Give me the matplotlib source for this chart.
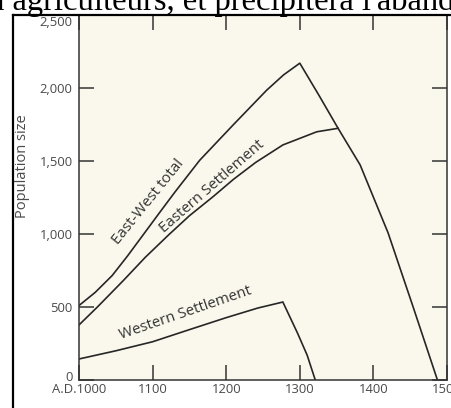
import matplotlib
matplotlib.use("Agg")
import matplotlib.pyplot as plt
from matplotlib.lines import Line2D

# ---- data ----
total_years = [1000, 1022, 1045, 1066, 1088, 1110, 1130, 1164, 1210, 1255, 1278, 1300, 1326, 1352, 1382, 1420, 1454, 1487]
total_pop   = [510,  600,  715,  850,  1000, 1150, 1285, 1505, 1750, 1985, 2090, 2170, 1950, 1724, 1473, 1007, 500,  0]

east_years = [1000, 1025, 1060, 1090, 1122, 1150, 1182, 1210, 1240, 1277, 1323, 1352]
east_pop   = [377,  500,  680,  840,  995,  1125, 1255, 1375, 1490, 1610, 1700, 1724]

west_years = [1000, 1050, 1100, 1150, 1200, 1243, 1277, 1297, 1310, 1321]
west_pop   = [144,  200,  262,  345,  427,  493,  534,  320,  170,  0]

x_ticks = [1000, 1100, 1200, 1300, 1400, 1500]
x_labels = ["A.D.1000", "1100", "1200", "1300", "1400", "1500"]
y_ticks = [0, 500, 1000, 1500, 2000, 2500]
y_labels = ["0", "500", "1,000", "1,500", "2,000", "2,500"]

W, H = 451, 408
fig = plt.figure(figsize=(W / 100, H / 100), dpi=100)
fig.patch.set_facecolor("white")

def fx(px):
    return px / W

def fy(py):
    return 1 - py / H

ax = fig.add_axes([fx(79), fy(380), fx(447) - fx(79), fy(15) - fy(380)])
ax.set_facecolor("#faf8ec")

line_kw = dict(color="#262626", lw=1.2, solid_joinstyle="round")
ax.plot(total_years, total_pop, **line_kw)
ax.plot(east_years, east_pop, **line_kw)
ax.plot(west_years, west_pop, color="#262626", lw=1.2, solid_joinstyle="miter")

ax.set_xlim(1000, 1500)
ax.set_ylim(0, 2500)
ax.set_xticks(x_ticks)
ax.set_xticklabels(x_labels)
ax.set_yticks(y_ticks)
# end labels (0 and 2,500) are drawn separately, nudged inside the frame
ax.set_yticklabels([""] + y_labels[1:-1] + [""])

font = "Open Sans"
tick_color = "#4a4a4a"
for lab in ax.get_xticklabels() + ax.get_yticklabels():
    lab.set_fontfamily(font)
    lab.set_fontsize(9.4)
    lab.set_color(tick_color)

fig.text(fx(72.5), fy(23), y_labels[-1], fontfamily=font, fontsize=9.4,
         color=tick_color, ha="right", va="center")
fig.text(fx(72.5), fy(377.5), y_labels[0], fontfamily=font, fontsize=9.4,
         color=tick_color, ha="right", va="center")

ax.tick_params(axis="both", direction="in", length=11, width=1.1, color="#333333",
               top=True, right=True)
ax.tick_params(axis="x", pad=2.5)
ax.tick_params(axis="y", pad=4.5)
for s in ax.spines.values():
    s.set_color("#333333")
    s.set_linewidth(1.1)

# curve labels
lab_kw = dict(fontfamily=font, fontsize=10.8, color="#333333",
              ha="center", va="center", rotation_mode="anchor")
fig.text(fx(148), fy(202), "East-West total", rotation=51, **lab_kw)
fig.text(fx(212), fy(187), "Eastern Settlement", rotation=41, **lab_kw)
fig.text(fx(186), fy(313), "Western Settlement", rotation=19, **lab_kw)

# y axis title
fig.text(fx(23), fy(166), "Population size", rotation=90, fontfamily=font,
         fontsize=10.5, color=tick_color, ha="center", va="center")

# outer frame of the scanned figure
fig.add_artist(Line2D([fx(13), fx(13)], [fy(15), -0.05], color="black", lw=1.6,
                      transform=fig.transFigure))
fig.add_artist(Line2D([fx(13), 1.05], [fy(15), fy(15)], color="black", lw=1.6,
                      transform=fig.transFigure))

# page text above (cut off by the crop)
fig.text(fx(-9.6), fy(10), "a agriculteurs, et précipitera l'abandon",
         fontfamily="Liberation Serif", fontsize=23.5, color="black",
         ha="left", va="baseline")

fig.savefig("out.png", dpi=100)
